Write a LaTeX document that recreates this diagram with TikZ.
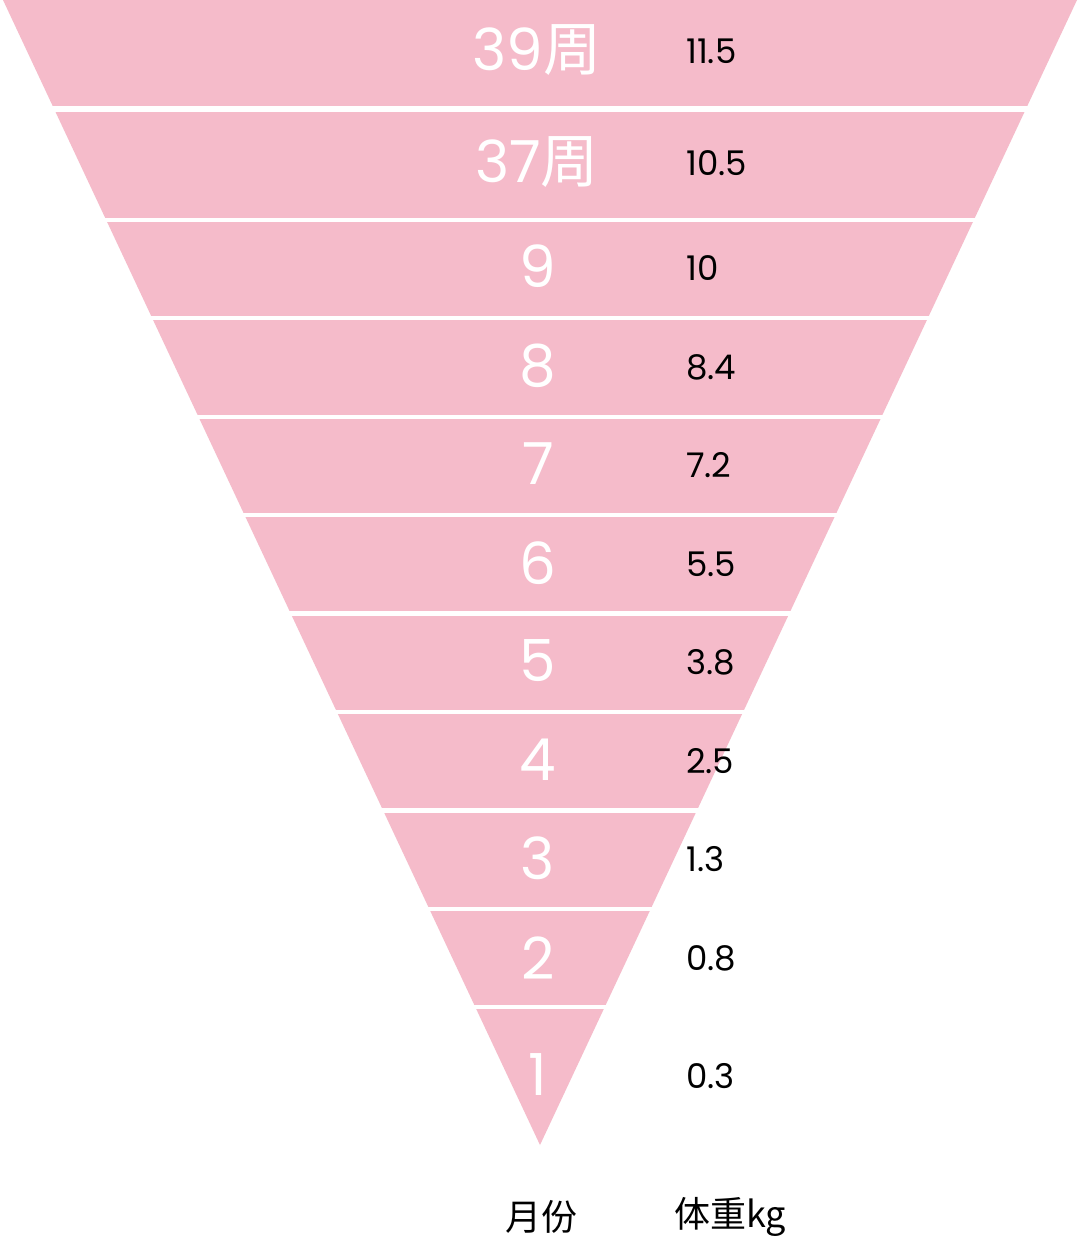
\documentclass[tikz,border=0pt]{standalone}
\usepackage{fontspec}
\setmainfont{Poppins}
\newfontfamily\cjk{Noto Sans CJK SC}
\definecolor{bandpink}{RGB}{245,187,202}
\tikzset{
  month/.style={text=white,font=\fontsize{58}{58}\selectfont,anchor=center,inner sep=0pt},
  weight/.style={text=black,font=\fontsize{34}{34}\selectfont,anchor=west,inner sep=0pt},
  caption/.style={text=black,font=\fontsize{36}{36}\selectfont\cjk,anchor=center,inner sep=0pt},
  gap/.style={fill=white}
}
\begin{document}
\begin{tikzpicture}[x=1pt,y=-1pt]
\useasboundingbox (0,0) rectangle (1080,1240);
\fill[white] (0,0) rectangle (1080,1240);
\fill[bandpink] (3,0) -- (1077,0) -- (540,1145) -- cycle;
\foreach \a/\b in {106/112,218/222,316/320,415/419,513/517,611/616,710/714,808/813,907/911,1005/1009}
  \fill[gap] (0,\a) rectangle (1080,\b);
% month labels
\node[month] (m39) at (537,50) {39{\cjk 周}};
\node[month] (m37) at (537,162) {37{\cjk 周}};
\node[month] (m9) at (538,266) {9};
\node[month] (m8) at (538,366) {8};
\node[month] (m7) at (538,464) {7};
\node[month] (m6) at (538,563) {6};
\node[month] (m5) at (538,661) {5};
\node[month] (m4) at (538,760) {4};
\node[month] (m3) at (538,858) {3};
\node[month] (m2) at (538,958) {2};
\node[month] (m1) at (538,1075) {1};
% weights
\node[weight] (w39) at (686,51) {11.5};
\node[weight] (w37) at (686,163) {10.5};
\node[weight] (w9) at (686,268) {10};
\node[weight] (w8) at (686,367) {8.4};
\node[weight] (w7) at (686,465) {7.2};
\node[weight] (w6) at (686,564) {5.5};
\node[weight] (w5) at (686,662) {3.8};
\node[weight] (w4) at (686,761) {2.5};
\node[weight] (w3) at (686,859) {1.3};
\node[weight] (w2) at (686,958) {0.8};
\node[weight] (w1) at (686,1076) {0.3};
% captions
\node[caption] (c1) at (541,1217) {月份};
\node[caption,anchor=west] (c2) at (674,1217) {体重kg};
\end{tikzpicture}
\end{document}
